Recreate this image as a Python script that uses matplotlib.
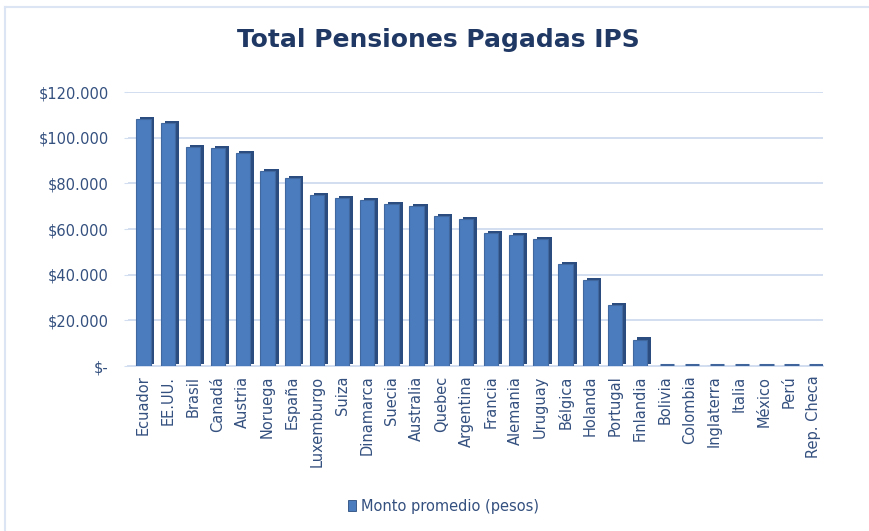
import matplotlib.pyplot as plt
import matplotlib.patheffects as pe
from matplotlib.patches import Patch
from matplotlib.ticker import FuncFormatter
from matplotlib.lines import Line2D

## Data
countries = ["Ecuador", "EE.UU.", "Brasil", "Canadá", "Austria", "Noruega", "España",
             "Luxemburgo", "Suiza", "Dinamarca", "Suecia", "Australia", "Quebec",
             "Argentina", "Francia", "Alemania", "Uruguay", "Bélgica", "Holanda",
             "Portugal", "Finlandia", "Bolivia", "Colombia", "Inglaterra", "Italia",
             "México", "Perú", "Rep. Checa"]
monto = [108100, 106300, 95800, 95400, 93200, 85300, 82300,
         74800, 73500, 72600, 70900, 70000, 65600,
         64300, 58200, 57300, 55600, 44600, 37600,
         26700, 11400, 0, 0, 0, 0,
         0, 0, 0]
y_ticks = [0, 20000, 40000, 60000, 80000, 100000, 120000]

title_color = "#1F3864"
text_color = "#34507F"
grid_color = "#D3DEF1"
front_color = "#4A7CBE"
side_color = "#2B4C7E"
bar_w = 0.58

fig = plt.figure(figsize=(8.69, 5.31), dpi=100)
ax = fig.add_axes([0.1473, 0.3107, 0.80, 0.516])

x = list(range(len(countries)))
bars = ax.bar(x, monto, width=bar_w, color=front_color, edgecolor="#41699F",
              linewidth=0.8, zorder=3, label="Monto promedio (pesos)")
# fake 3D side/top faces
for b in bars:
    b.set_path_effects([pe.SimplePatchShadow(offset=(2.8, 1.8), shadow_rgbFace=side_color, alpha=1.0),
                        pe.Normal()])

# flat slabs for the zero-valued countries
for xi, v in zip(x, monto):
    if v == 0:
        ax.hlines(v + 600, xi - bar_w / 2 + 0.1, xi + bar_w / 2 + 0.1, color="#3F659C",
                  linewidth=2.2, zorder=3)

ax.set_xlim(-0.62, len(countries) - 0.62)
ax.set_ylim(0, 120000)
ax.set_yticks(y_ticks)
ax.yaxis.set_major_formatter(FuncFormatter(lambda v, p: "$-" if v == 0 else "${:,.0f}".format(v).replace(",", ".")))
ax.set_xticks(x)
ax.set_xticklabels(countries, rotation=90)

ax.grid(axis="y", color=grid_color, linewidth=1.4, zorder=0)
ax.set_axisbelow(True)
for s in ["top", "right", "left"]:
    ax.spines[s].set_visible(False)
ax.spines["bottom"].set_color(grid_color)
ax.spines["bottom"].set_linewidth(1.4)

ax.tick_params(axis="y", length=3, color=grid_color, pad=11, labelsize=10.5, labelcolor=text_color)
ax.tick_params(axis="x", length=0, pad=7, labelsize=10.5, labelcolor=text_color)

fig.text(0.505, 0.925, "Total Pensiones Pagadas IPS", ha="center", va="center",
         fontsize=18, fontweight="bold", color=title_color)

handle = Patch(facecolor=front_color, edgecolor=side_color, linewidth=0.6)
fig.legend([handle], ["Monto promedio (pesos)"], loc="center", bbox_to_anchor=(0.51, 0.047),
           frameon=False, fontsize=10.5, labelcolor=text_color, handlelength=0.6,
           handleheight=0.75, handletextpad=0.3)

# light chart border (top and left)
fig.add_artist(Line2D([5 / 869, 1], [1 - 7 / 531, 1 - 7 / 531], transform=fig.transFigure,
                      color="#DCE5F4", linewidth=1.5))
fig.add_artist(Line2D([5 / 869, 5 / 869], [0, 1 - 7 / 531], transform=fig.transFigure,
                      color="#DCE5F4", linewidth=1.5))

plt.savefig("out.png", dpi=100)
